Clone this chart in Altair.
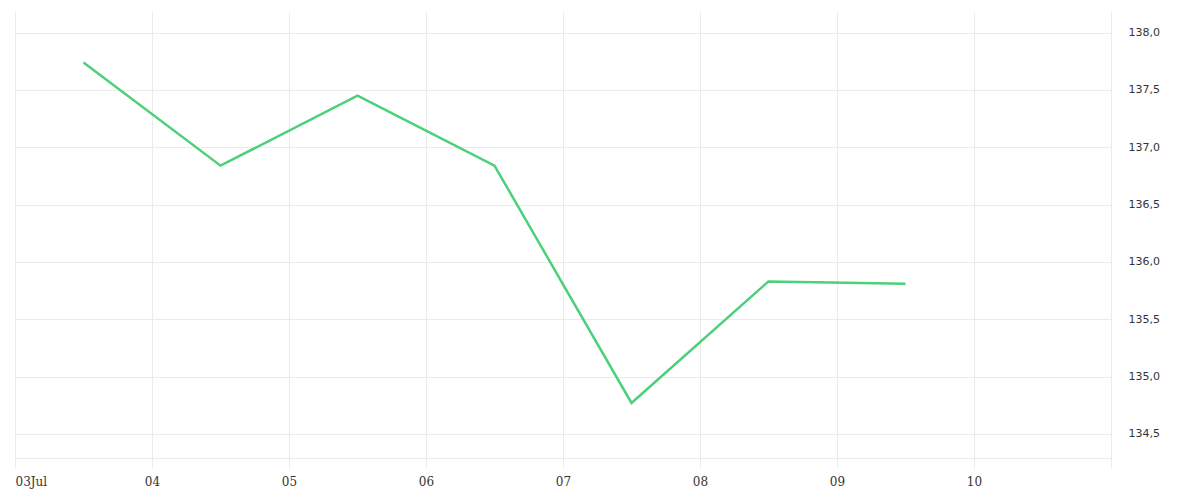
import altair as alt
import pandas as pd

dates = ["2024-07-03T12:00:00Z", "2024-07-04T12:00:00Z", "2024-07-05T12:00:00Z",
         "2024-07-06T12:00:00Z", "2024-07-07T12:00:00Z", "2024-07-08T12:00:00Z",
         "2024-07-09T12:00:00Z"]
values = [137.74, 136.84, 137.45, 136.84, 134.77, 135.83, 135.81]
tick_days = [3, 4, 5, 6, 7, 8, 9, 10, 11]

df = pd.DataFrame({"date": dates, "value": values})

grid_color = "#ebebeb"

x_axis = alt.Axis(
    values=[alt.DateTime(year=2024, month=7, date=d, utc=True) for d in tick_days],
    labelExpr="utcFormat(datum.value, '%d') == '03' ? '03Jul' : (utcFormat(datum.value, '%d') == '11' ? '' : utcFormat(datum.value, '%d'))",
    grid=True, gridColor=grid_color, gridWidth=1,
    ticks=True, tickSize=10, tickColor=grid_color,
    domain=True, domainColor=grid_color,
    labelFont="DejaVu Serif", labelFontSize=12, labelColor="#333333",
    labelPadding=8, labelAngle=0, title=None,
    labelOverlap=False, labelBound=False, labelFlush=True, labelFlushOffset=0,
)

y_axis = alt.Axis(
    orient="right", values=[134.5, 135.0, 135.5, 136.0, 136.5, 137.0, 137.5, 138.0],
    labelExpr="replace(format(datum.value, '.1f'), '.', ',')",
    grid=True, gridColor=grid_color, gridWidth=1,
    ticks=False, domain=False,
    labelFont="DejaVu Sans", labelFontSize=11, labelColor="#333333",
    labelPadding=17, labelAlign="left", title=None,
)

chart = alt.Chart(df).mark_line(color="#4cd07a", strokeWidth=2.5).encode(
    x=alt.X("date:T", scale=alt.Scale(type="utc", domain=[
        alt.DateTime(year=2024, month=7, date=3, utc=True),
        alt.DateTime(year=2024, month=7, date=11, utc=True)], nice=False), axis=x_axis),
    y=alt.Y("value:Q", scale=alt.Scale(domain=[134.29, 138.18], nice=False, zero=False), axis=y_axis),
).properties(
    width=1096, height=446,
    background="white",
    autosize=alt.AutoSizeParams(type="none"),
    padding={"left": 7, "top": 4, "right": 80, "bottom": 40},
).configure_view(stroke=None)

chart.save("out.html", embed_options={"renderer": "svg", "actions": False})
